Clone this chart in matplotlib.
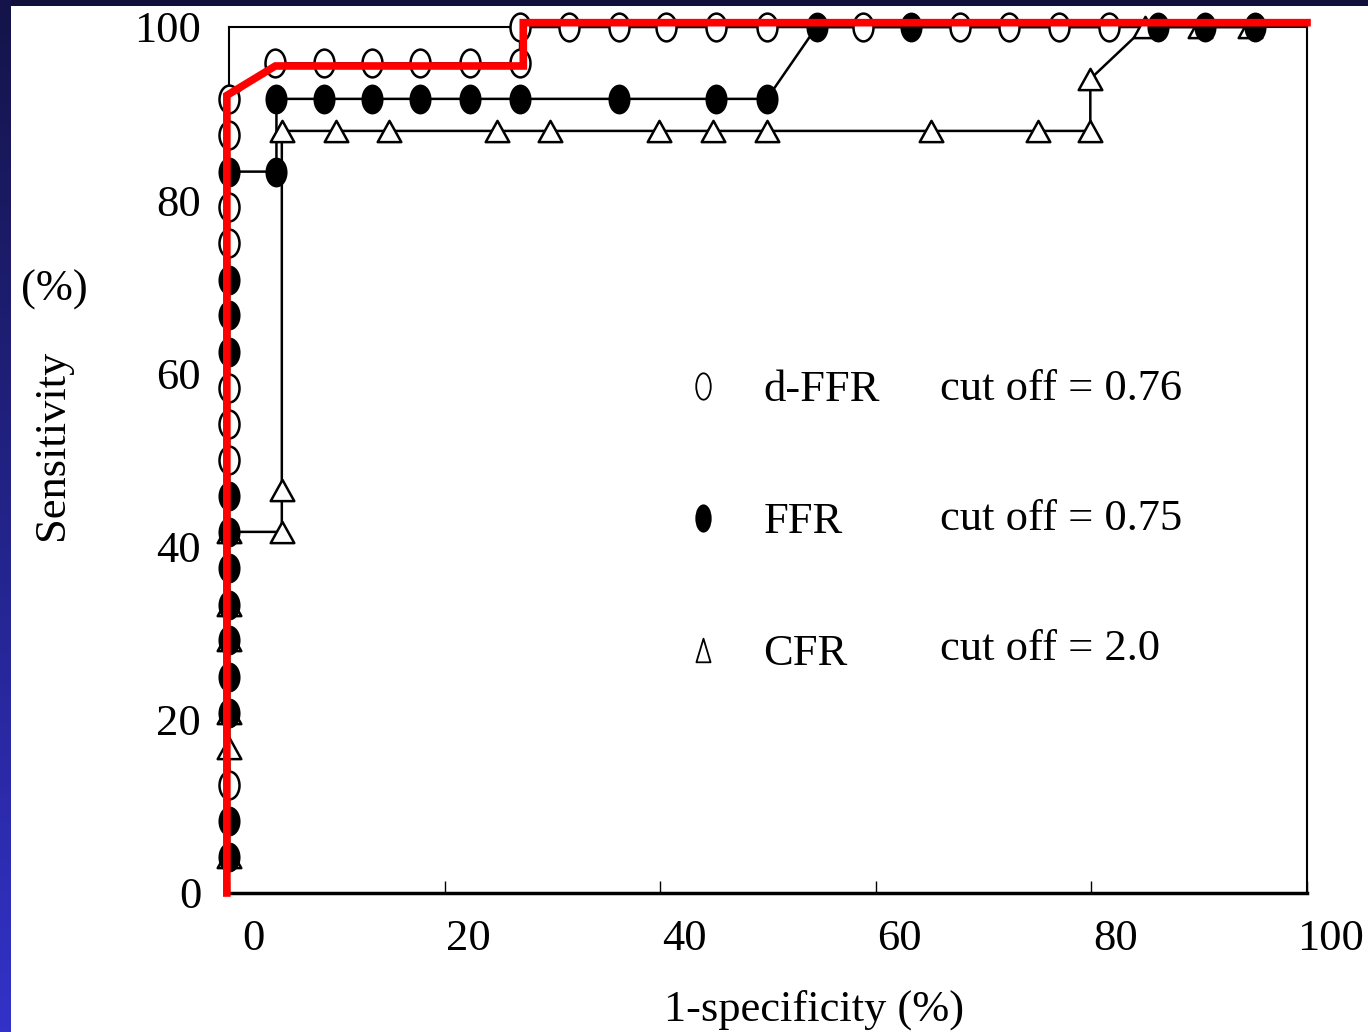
import numpy as np
import matplotlib
matplotlib.use("Agg")
import matplotlib.pyplot as plt
from matplotlib.path import Path
from matplotlib.patches import Rectangle
from matplotlib.transforms import Affine2D, ScaledTranslation
from matplotlib.lines import Line2D

plt.rcParams['font.family'] = ['Liberation Serif', 'DejaVu Serif']

# ROC points (1-specificity %, sensitivity %)
dffr_x = [0, 0, 0, 0, 0, 0, 0, 0, 4.3, 8.8, 13.3, 17.7, 22.4, 27.0, 27.0,
          31.5, 36.2, 40.5, 45.2, 49.9, 58.8, 67.8, 72.4, 77.0, 81.6]
dffr_y = [12.5, 50.0, 54.2, 58.3, 75.0, 79.2, 87.5, 91.7, 95.8, 95.8, 95.8, 95.8, 95.8, 95.8, 100,
          100, 100, 100, 100, 100, 100, 100, 100, 100, 100]

ffr_x = [0, 0, 0, 0, 0, 0, 0, 0, 0, 0, 0, 0, 0, 4.4, 4.4,
         8.8, 13.3, 17.7, 22.4, 27.0, 36.2, 45.2, 49.9, 54.5, 63.3, 86.2, 90.5, 95.2]
ffr_y = [4.2, 8.3, 20.8, 25.0, 29.2, 33.3, 37.5, 41.7, 45.8, 62.5, 66.7, 70.8, 83.3, 83.3, 91.7,
         91.7, 91.7, 91.7, 91.7, 91.7, 91.7, 91.7, 91.7, 100, 100, 100, 100, 100]

cfr_x = [0, 0, 0, 0, 0, 0, 4.9, 4.9, 4.9, 9.9, 14.8, 24.9, 29.8, 39.9, 44.9, 49.9,
         65.1, 75.0, 79.9, 79.9, 85.0, 90.1, 94.7]
cfr_y = [4.2, 16.7, 20.8, 29.2, 33.3, 41.7, 41.7, 46.5, 88.0, 88.0, 88.0, 88.0, 88.0, 88.0, 88.0, 88.0,
         88.0, 88.0, 88.0, 94.0, 100, 100, 100]

# red overlay line drawn on the slide
red_x = [-0.2, -0.2, 4.3, 27.3, 27.3, 100]
red_y = [0, 92.1, 95.5, 95.5, 100.5, 100.5]

names = ['d-FFR', 'FFR', 'CFR']
cutoffs = ['cut off = 0.76', 'cut off = 0.75', 'cut off = 2.0']

xticks = [0, 20, 40, 60, 80, 100]
yticks = [0, 20, 40, 60, 80, 100]

# tall ellipse / triangle markers like the scanned figure
ellipse = Path.unit_circle().transformed(Affine2D().scale(0.72, 1.0))
tri = Path([(0, 0.9), (-1, -0.9), (1, -0.9), (0, 0.9)], closed=True)
ellipse_leg = Path.unit_circle().transformed(Affine2D().scale(0.55, 1.0))
tri_leg = Path([(0, 1), (-0.6, -1), (0.6, -1), (0, 1)], closed=True)

fs = 32

fig = plt.figure(figsize=(13.68, 10.32), dpi=100, facecolor='white')

# slide border: dark top strip, gradient on the left
fig.add_artist(Rectangle((0, 1 - 6 / 1032), 1, 6 / 1032, transform=fig.transFigure,
                         facecolor='#10103a', edgecolor='none', zorder=0))
left = fig.add_axes([0, 0, 11 / 1368, 1])
grad = np.linspace(0, 1, 256).reshape(-1, 1)
cmap = matplotlib.colors.LinearSegmentedColormap.from_list('bg', ['#14144a', '#3232c8'])
left.imshow(grad, aspect='auto', cmap=cmap, extent=[0, 1, 0, 1], origin='upper')
left.set_axis_off()

ax = fig.add_axes([229 / 1368, 1 - 893 / 1032, 1078 / 1368, 866 / 1032])
ax.set_xlim(0, 100)
ax.set_ylim(0, 100)

lw = 1.8
ax.plot(dffr_x, dffr_y, color='black', lw=lw, zorder=2, clip_on=False)
ax.plot(ffr_x, ffr_y, color='black', lw=lw, zorder=2, clip_on=False)
ax.plot(cfr_x, cfr_y, color='black', lw=lw, zorder=2, clip_on=False)

ax.plot(dffr_x, dffr_y, ls='none', marker=ellipse, ms=20, mfc='white', mec='black', mew=1.8,
        zorder=3, clip_on=False)
ax.plot(cfr_x, cfr_y, ls='none', marker=tri, ms=17, mfc='white', mec='black', mew=1.8,
        zorder=4, clip_on=False)
ax.plot(ffr_x, ffr_y, ls='none', marker=ellipse, ms=20, mfc='black', mec='black', mew=1.5,
        zorder=5, clip_on=False)

ax.plot(red_x, red_y, color='#ff0000', lw=5.5, zorder=6, clip_on=False, solid_joinstyle='miter')

for side in ['left', 'right', 'top', 'bottom']:
    ax.spines[side].set_linewidth(1.5)
    ax.spines[side].set_color('black')
ax.spines['bottom'].set_linewidth(2.5)

ax.set_xticks(xticks)
ax.set_yticks(yticks)
ax.set_xticklabels([str(t) for t in xticks], fontsize=fs)
ax.set_yticklabels([str(t) for t in yticks], fontsize=fs)
ax.tick_params(axis='x', direction='in', length=9, width=1, pad=19)
ax.tick_params(axis='y', length=0, pad=20)
shift = ScaledTranslation(24 / 100, 0, fig.dpi_scale_trans)
for lab in ax.get_xticklabels():
    lab.set_transform(lab.get_transform() + shift)

ax.set_xlabel('1-specificity (%)', fontsize=fs, va='center')
ax.xaxis.set_label_coords((814 - 229) / 1078, (893 - 1010) / 866)
ax.set_ylabel('Sensitivity', fontsize=fs, va='center')
ax.yaxis.set_label_coords((52 - 229) / 1078, (893 - 445) / 866)
ax.text((54 - 229) / 1078, (893 - 290) / 866, '(%)', transform=ax.transAxes,
        fontsize=fs, ha='center', va='center')

handles = [
    Line2D([], [], ls='none', marker=ellipse_leg, ms=19, mfc='white', mec='black', mew=1.3),
    Line2D([], [], ls='none', marker=ellipse_leg, ms=19, mfc='black', mec='black', mew=1.3),
    Line2D([], [], ls='none', marker=tri_leg, ms=17, mfc='white', mec='black', mew=1.3),
]
leg = ax.legend(handles, names, loc='upper left', bbox_to_anchor=((681 - 229) / 1078, (893 - 370) / 866),
                frameon=False, fontsize=fs, handlelength=1.0, handletextpad=0.85,
                labelspacing=2.07, borderpad=0, borderaxespad=0)

for i, txt in enumerate(cutoffs):
    ax.text((940 - 229) / 1078, (893 - (389 + 130 * i)) / 866, txt, transform=ax.transAxes,
            fontsize=fs, ha='left', va='center')

fig.savefig('out.png', dpi=100, facecolor='white')
